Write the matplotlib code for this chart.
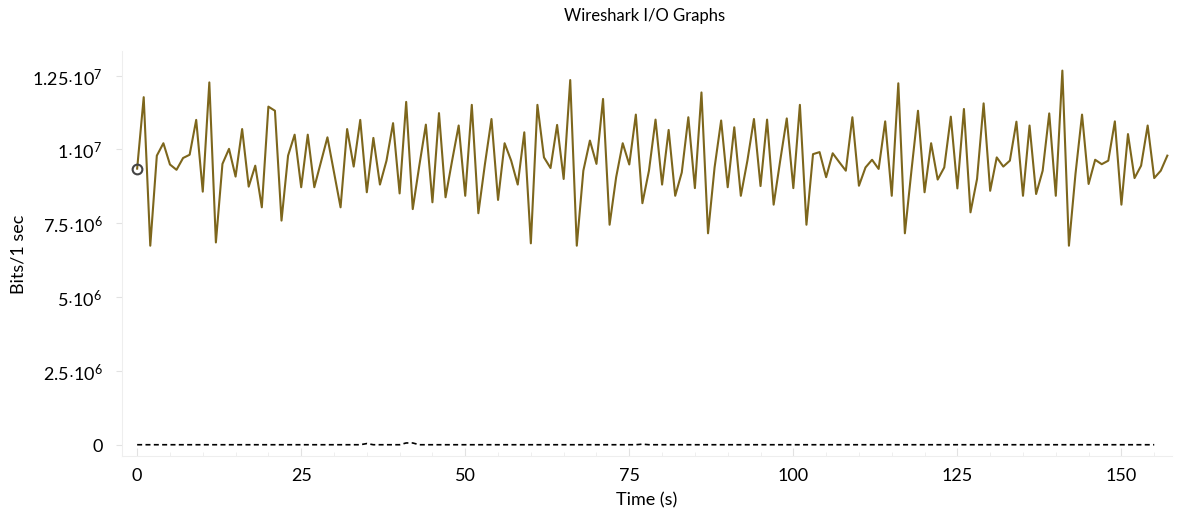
import numpy as np
import matplotlib
matplotlib.use('Agg')
import matplotlib.pyplot as plt

plt.rcParams['font.family'] = ['Lato', 'DejaVu Sans']
plt.rcParams['mathtext.fontset'] = 'custom'
plt.rcParams['mathtext.rm'] = 'Lato'
plt.rcParams['mathtext.it'] = 'Lato'

# bits per second, one sample per second (t = 0 .. 157)
bits = [9.35e6, 1.177e7, 6.74e6, 9.79e6, 1.021e7, 9.49e6, 9.31e6, 9.71e6, 9.82e6, 1.10e7,
        8.57e6, 1.227e7, 6.85e6, 9.51e6, 1.002e7, 9.08e6, 1.069e7, 8.74e6, 9.45e6, 8.04e6,
        1.145e7, 1.131e7, 7.59e6, 9.79e6, 1.05e7, 8.72e6, 1.05e7, 8.72e6, 9.57e6, 1.041e7,
        9.22e6, 8.04e6, 1.069e7, 9.42e6, 1.10e7, 8.55e6, 1.039e7, 8.81e6, 9.62e6, 1.089e7,
        8.51e6, 1.161e7, 7.98e6, 9.45e6, 1.084e7, 8.21e6, 1.123e7, 8.38e6, 9.62e6, 1.081e7,
        8.43e6, 1.151e7, 7.84e6, 9.5e6, 1.103e7, 8.29e6, 1.021e7, 9.62e6, 8.81e6, 1.058e7,
        6.82e6, 1.151e7, 9.73e6, 9.37e6, 1.083e7, 9.0e6, 1.235e7, 6.74e6, 9.28e6, 1.03e7,
        9.51e6, 1.171e7, 7.45e6, 9.06e6, 1.021e7, 9.49e6, 1.118e7, 8.18e6, 9.28e6, 1.101e7,
        8.81e6, 1.066e7, 8.43e6, 9.22e6, 1.109e7, 8.69e6, 1.193e7, 7.16e6, 9.39e6, 1.098e7,
        8.72e6, 1.075e7, 8.43e6, 9.62e6, 1.103e7, 8.76e6, 1.101e7, 8.13e6, 9.62e6, 1.105e7,
        8.69e6, 1.151e7, 7.45e6, 9.84e6, 9.91e6, 9.06e6, 9.87e6, 9.57e6, 9.28e6, 1.109e7,
        8.77e6, 9.39e6, 9.65e6, 9.34e6, 1.095e7, 8.43e6, 1.224e7, 7.16e6, 9.28e6, 1.131e7,
        8.55e6, 1.021e7, 8.98e6, 9.39e6, 1.111e7, 8.68e6, 1.137e7, 7.87e6, 9.0e6, 1.156e7,
        8.6e6, 9.73e6, 9.42e6, 9.62e6, 1.094e7, 8.43e6, 1.081e7, 8.49e6, 9.28e6, 1.122e7,
        8.43e6, 1.267e7, 6.74e6, 9.17e6, 1.118e7, 8.83e6, 9.65e6, 9.5e6, 9.62e6, 1.095e7,
        8.13e6, 1.052e7, 9.03e6, 9.45e6, 1.081e7, 9.03e6, 9.28e6, 9.79e6]
t_bits = np.arange(len(bits))

# second graph: almost flat near zero, a few tiny bumps
t_small = np.arange(0, 156)
small = np.zeros(len(t_small))
small[35] = 4e4
small[41] = 6e4
small[42] = 6e4
small[77] = 2e4

yticks = [0, 2.5e6, 5e6, 7.5e6, 1e7, 1.25e7]
ytick_labels = ['0', r'$2.5{\cdot}10^{6}$', r'$5{\cdot}10^{6}$', r'$7.5{\cdot}10^{6}$',
                r'$1{\cdot}10^{7}$', r'$1.25{\cdot}10^{7}$']
xticks = [0, 25, 50, 75, 100, 125, 150]

fig = plt.figure(figsize=(11.77, 5.10), dpi=100)
ax = fig.add_axes([0.1037, 0.104, 0.892, 0.795])

ax.plot(t_small, small, color='black', lw=1.2, ls=(0, (3, 2)))
ax.plot(t_bits, bits, color='#7d661c', lw=1.5)
ax.plot(t_bits[0], bits[0], 'o', ms=7, mfc='none', mec='#444444', mew=1.5)

ax.set_xlim(-2.3, 157.7)
ax.set_ylim(-3.8e5, 1.335e7)
ax.set_yticks(yticks)
ax.set_yticklabels(ytick_labels)
ax.set_xticks(xticks)
ax.set_xticks(np.arange(0, 160, 5), minor=True)

for s in ['top', 'right']:
    ax.spines[s].set_visible(False)
for s in ['left', 'bottom']:
    ax.spines[s].set_color('#eeeeee')
ax.tick_params(axis='x', direction='in', length=6, color='#e2e2e2', labelsize=13, pad=8)
ax.tick_params(axis='x', which='minor', direction='in', length=3, color='#ececec')
ax.tick_params(axis='y', direction='out', length=4, color='#e2e2e2', labelsize=13, pad=10)

ax.set_xlabel('Time (s)', fontsize=13, labelpad=6)
ax.set_ylabel('Bits/1 sec', fontsize=13, labelpad=4)
fig.suptitle('Wireshark I/O Graphs', x=0.548, y=0.985, fontsize=12)

fig.savefig('out.png', dpi=100)
